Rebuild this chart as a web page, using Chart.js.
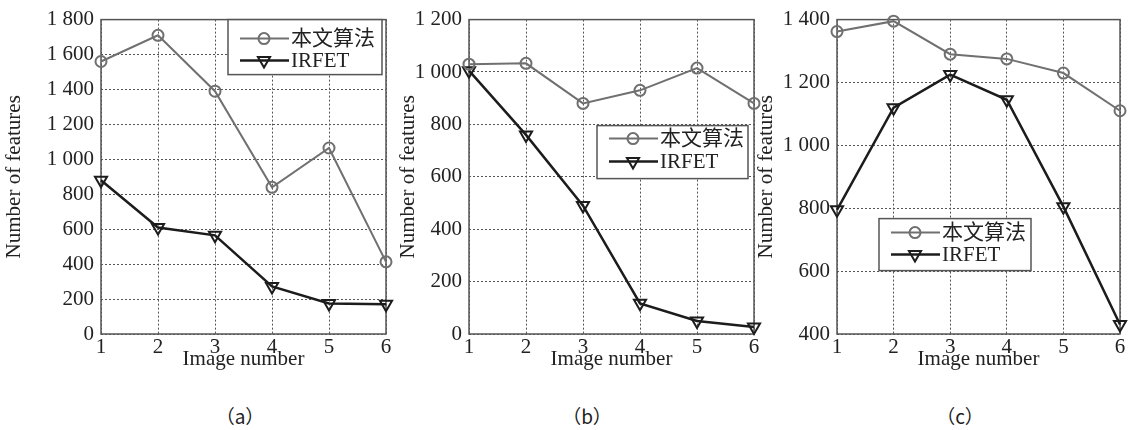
<!DOCTYPE html>
<html>
<head>
<meta charset="utf-8">
<script src="https://cdn.jsdelivr.net/npm/chart.js@4.4.1/dist/chart.umd.min.js"></script>
<style>
  html, body { margin: 0; padding: 0; background: #fff; }
  #wrap { position: relative; width: 1140px; height: 430px; overflow: hidden; }
  canvas { position: absolute; top: 0; }
  .cap { position: absolute; top: 402px; font: 19px "Noto Sans CJK SC", sans-serif; color: #222; transform: translateX(-50%); white-space: nowrap; }
</style>
</head>
<body>
<div id="wrap">
  <canvas id="chartA" width="395" height="380" style="left:0"></canvas>
  <canvas id="chartB" width="368" height="380" style="left:395px"></canvas>
  <canvas id="chartC" width="388" height="380" style="left:752px"></canvas>
  <div class="cap" style="left:240px">（a）</div>
  <div class="cap" style="left:587px">（b）</div>
  <div class="cap" style="left:960px">（c）</div>
</div>
<script>
const imageNumbers = ['1', '2', '3', '4', '5', '6'];
const seriesNames = ['本文算法', 'IRFET'];

// (a)
const oursA = [1560, 1710, 1390, 840, 1065, 413];
const irfetA = [880, 610, 565, 272, 175, 170];
const yTicksA = [0, 200, 400, 600, 800, 1000, 1200, 1400, 1600, 1800];
// (b)
const oursB = [1030, 1033, 880, 930, 1015, 880];
const irfetB = [1005, 760, 490, 117, 50, 27];
const yTicksB = [0, 200, 400, 600, 800, 1000, 1200];
// (c)
const oursC = [1362, 1395, 1290, 1275, 1230, 1110];
const irfetC = [795, 1120, 1225, 1145, 805, 430];
const yTicksC = [400, 600, 800, 1000, 1200, 1400];

const SERIF = '"Liberation Serif", "Noto Sans CJK SC", serif';
const TXT = '#222';
const GRAY = '#707070';
const BLACK = '#1c1c1c';

const fmt = v => v >= 1000 ? Math.floor(v / 1000) + ' ' + String(v % 1000).padStart(3, '0') : String(v);

// box round the plot area plus the legend inside it
const frameLegend = {
  id: 'frameLegend',
  beforeDatasetsDraw(chart) {
    const { ctx, chartArea: a } = chart;
    ctx.save();
    ctx.strokeStyle = '#555';
    ctx.lineWidth = 1.5;
    ctx.strokeRect(a.left, a.top, a.right - a.left, a.bottom - a.top);
    ctx.restore();
  },
  afterDatasetsDraw(chart, args, opts) {
    const { ctx, chartArea: a } = chart;
    const x = a.left + opts.box[0], y = a.top + opts.box[1];
    ctx.save();
    ctx.fillStyle = '#fff';
    ctx.fillRect(x, y, opts.box[2], opts.box[3]);
    ctx.strokeStyle = '#555';
    ctx.lineWidth = 1.5;
    ctx.strokeRect(x, y, opts.box[2], opts.box[3]);
    chart.data.datasets.forEach((ds, i) => {
      const ry = y + opts.rows[i];
      ctx.strokeStyle = ds.borderColor;
      ctx.lineWidth = ds.borderWidth;
      ctx.beginPath();
      ctx.moveTo(x + 12, ry);
      ctx.lineTo(x + 61, ry);
      ctx.stroke();
      ctx.fillStyle = 'rgba(0,0,0,0)';
      ctx.lineWidth = ds.pointBorderWidth;
      Chart.helpers.drawPoint(ctx, {
        pointStyle: ds.pointStyle, rotation: ds.pointRotation,
        radius: ds.pointRadius, borderWidth: ds.pointBorderWidth
      }, x + 36, ry);
      ctx.fillStyle = TXT;
      ctx.font = '21px ' + SERIF;
      ctx.textBaseline = 'middle';
      ctx.textAlign = 'left';
      ctx.fillText(ds.label, x + 63, ry + 1);
    });
    ctx.restore();
  }
};

function makeChart(id, ours, irfet, yTicks, cfg) {
  new Chart(document.getElementById(id), {
    type: 'line',
    data: {
      labels: imageNumbers,
      datasets: [
        { label: seriesNames[0], data: ours, borderColor: GRAY, borderWidth: 2,
          pointStyle: 'circle', pointRadius: 5.5, pointBorderWidth: 2, pointRotation: 0,
          pointBorderColor: GRAY, pointBackgroundColor: 'rgba(0,0,0,0)', tension: 0, clip: false },
        { label: seriesNames[1], data: irfet, borderColor: BLACK, borderWidth: 2.5,
          pointStyle: 'triangle', pointRadius: 7, pointBorderWidth: 2, pointRotation: 180,
          pointBorderColor: BLACK, pointBackgroundColor: 'rgba(0,0,0,0)', tension: 0, clip: false }
      ]
    },
    options: {
      responsive: false,
      animation: false,
      layout: { padding: { top: cfg.top, right: cfg.right, left: 0, bottom: 0 } },
      plugins: {
        legend: { display: false },
        tooltip: { enabled: false },
        frameLegend: { box: cfg.box, rows: cfg.rows }
      },
      scales: {
        x: {
          grid: { color: '#555', lineWidth: 1, drawTicks: false },
          border: { display: false, dash: [2, 2] },
          ticks: { color: TXT, font: { family: SERIF, size: 21 }, padding: 1, maxRotation: 0, autoSkip: false },
          title: { display: true, text: 'Image number', color: TXT,
                   font: { family: SERIF, size: 21, lineHeight: 1 }, padding: { top: 0, bottom: 10.5 } },
          afterFit: s => { s.height = 46; }
        },
        y: {
          min: yTicks[0], max: yTicks[yTicks.length - 1],
          grid: { color: '#555', lineWidth: 1, drawTicks: false },
          border: { display: false, dash: [2, 2] },
          afterBuildTicks: s => { s.ticks = yTicks.map(v => ({ value: v })); },
          ticks: { color: TXT, font: { family: SERIF, size: 21 }, padding: 7, callback: v => fmt(v) },
          title: { display: true, text: 'Number of features', color: TXT,
                   font: { family: SERIF, size: 21, lineHeight: 1 }, padding: { top: cfg.titlePad, bottom: 0 } },
          afterFit: s => { s.width = cfg.yWidth; }
        }
      }
    },
    plugins: [frameLegend]
  });
}

makeChart('chartA', oursA, irfetA, yTicksA,
  { top: 14, right: 9, yWidth: 101, titlePad: 4, box: [127, 0, 154, 55], rows: [19, 41] });
makeChart('chartB', oursB, irfetB, yTicksB,
  { top: 14, right: 9, yWidth: 74, titlePad: 3, box: [128, 106, 151, 53], rows: [13, 36] });
makeChart('chartC', oursC, irfetC, yTicksC,
  { top: 15, right: 20, yWidth: 85, titlePad: 3.5, box: [42, 199, 152, 52], rows: [14, 36] });
</script>
</body>
</html>
